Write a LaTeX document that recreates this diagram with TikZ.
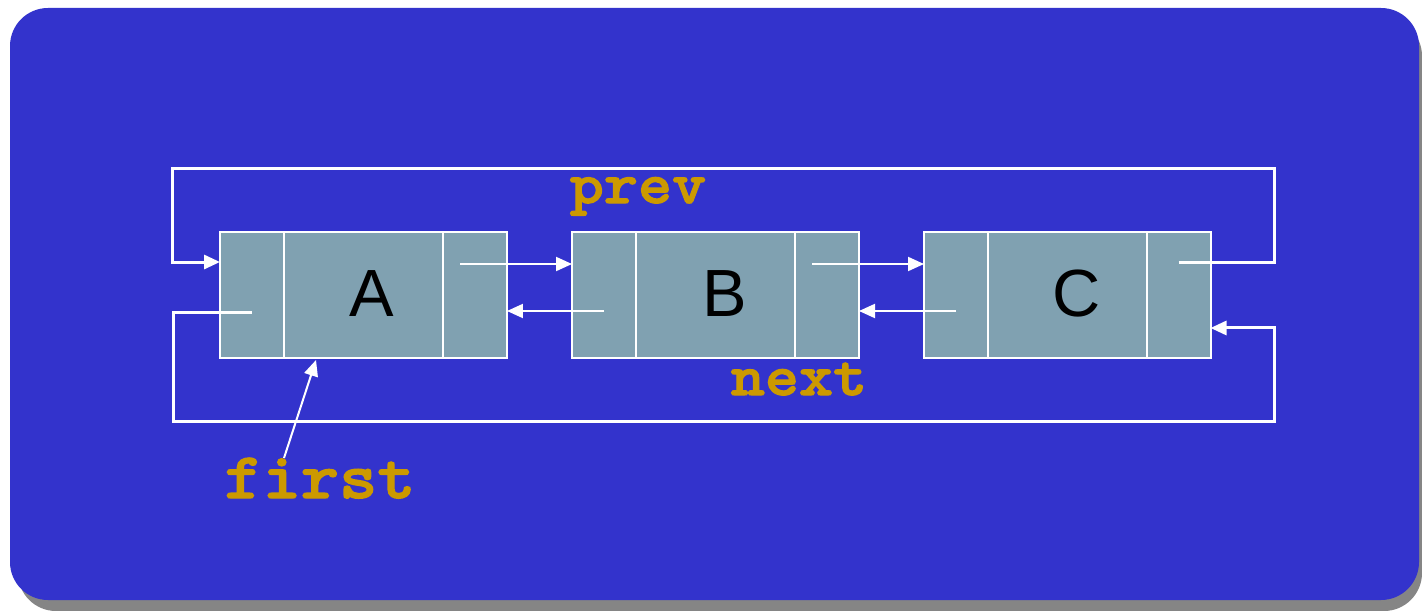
\documentclass[tikz,border=0pt]{standalone}
\usepackage{fontspec}
\setmainfont{Liberation Sans}
\newfontfamily\codefont{Latin Modern Mono Light}[FakeStretch=1.12,FakeBold=2]
\usetikzlibrary{arrows.meta,calc}
\definecolor{bgblue}{HTML}{3333CC}
\definecolor{cellgray}{HTML}{80A1B1}
\definecolor{lblorange}{HTML}{CC9900}
\definecolor{shadowgray}{HTML}{858585}
\begin{document}
\begin{tikzpicture}[x=0.02cm,y=-0.02cm,
  cellbox/.style={draw=white,line width=0.04cm,fill=cellgray,minimum height=2.52cm,inner sep=0pt,outer sep=0pt},
  ptrcell/.style={cellbox,minimum width=1.28cm},
  datacell/.style={cellbox,minimum width=3.18cm},
  letter/.style={anchor=base,inner sep=0pt,font=\fontsize{38}{38}\selectfont},
  tip/.style={-{Triangle[length=0.32cm,width=0.28cm]}},
  link/.style={draw=white,line width=0.04cm,tip},
  looplink/.style={draw=white,line width=0.06cm,tip},
  code/.style={anchor=base,inner sep=0pt,text=lblorange,font=\codefont\bfseries\fontsize{33}{33}\selectfont}]
\useasboundingbox (0,0) rectangle (1422,611);
\fill[shadowgray,rounded corners=0.76cm] (18,18) rectangle (1422,611);
\fill[bgblue,rounded corners=0.76cm] (10,8) rectangle (1419,600);
% list cells
\node[ptrcell] (Ap) at (252,295) {};
\node[datacell] (Ad) at (363.5,295) {};
\node[ptrcell] (An) at (475,295) {};
\node[ptrcell] (Bp) at (604,295) {};
\node[datacell] (Bd) at (715.5,295) {};
\node[ptrcell] (Bn) at (827,295) {};
\node[ptrcell] (Cp) at (956,295) {};
\node[datacell] (Cd) at (1067.5,295) {};
\node[ptrcell] (Cn) at (1178.5,295) {};
\node[letter] (Al) at (372,316) {A};
\node[letter] (Bl) at (725,316) {B};
\node[letter] (Cl) at (1077,316) {C};
% labels
\node[code] (prev) at (638,203) {prev};
\node[code] (next) at (799,395) {next};
\node[code,font=\codefont\bfseries\fontsize{37}{37}\selectfont] (first) at (320,498) {first};
% next pointers
\draw[link] ([xshift=-0.3cm,yshift=0.62cm]An.center) -- ([yshift=0.62cm]Bp.west);
\draw[link] ([xshift=-0.3cm,yshift=0.62cm]Bn.center) -- ([yshift=0.62cm]Cp.west);
% prev pointers
\draw[link] ([yshift=-0.32cm]Bp.center) -- ([yshift=-0.32cm]An.east);
\draw[link] ([yshift=-0.32cm]Cp.center) -- ([yshift=-0.32cm]Bn.east);
% wrap-around loops
\coordinate (topR) at (1274,169);
\coordinate (topL) at (172,169);
\coordinate (botL) at (173,421);
\coordinate (botR) at (1274,421);
\draw[looplink] ([yshift=0.66cm]Cn.center) -| (topR) -- (topL) |- ([yshift=0.66cm]Ap.west);
\draw[looplink] ([yshift=-0.36cm]Ap.center) -| (botL) -- (botR) |- ([yshift=-0.66cm]Cn.east);
% first pointer
\coordinate (firstTail) at (284,458);
\draw[link] (firstTail) -- ([xshift=0.64cm,yshift=-0.04cm]Ad.south west);
\end{tikzpicture}
\end{document}
